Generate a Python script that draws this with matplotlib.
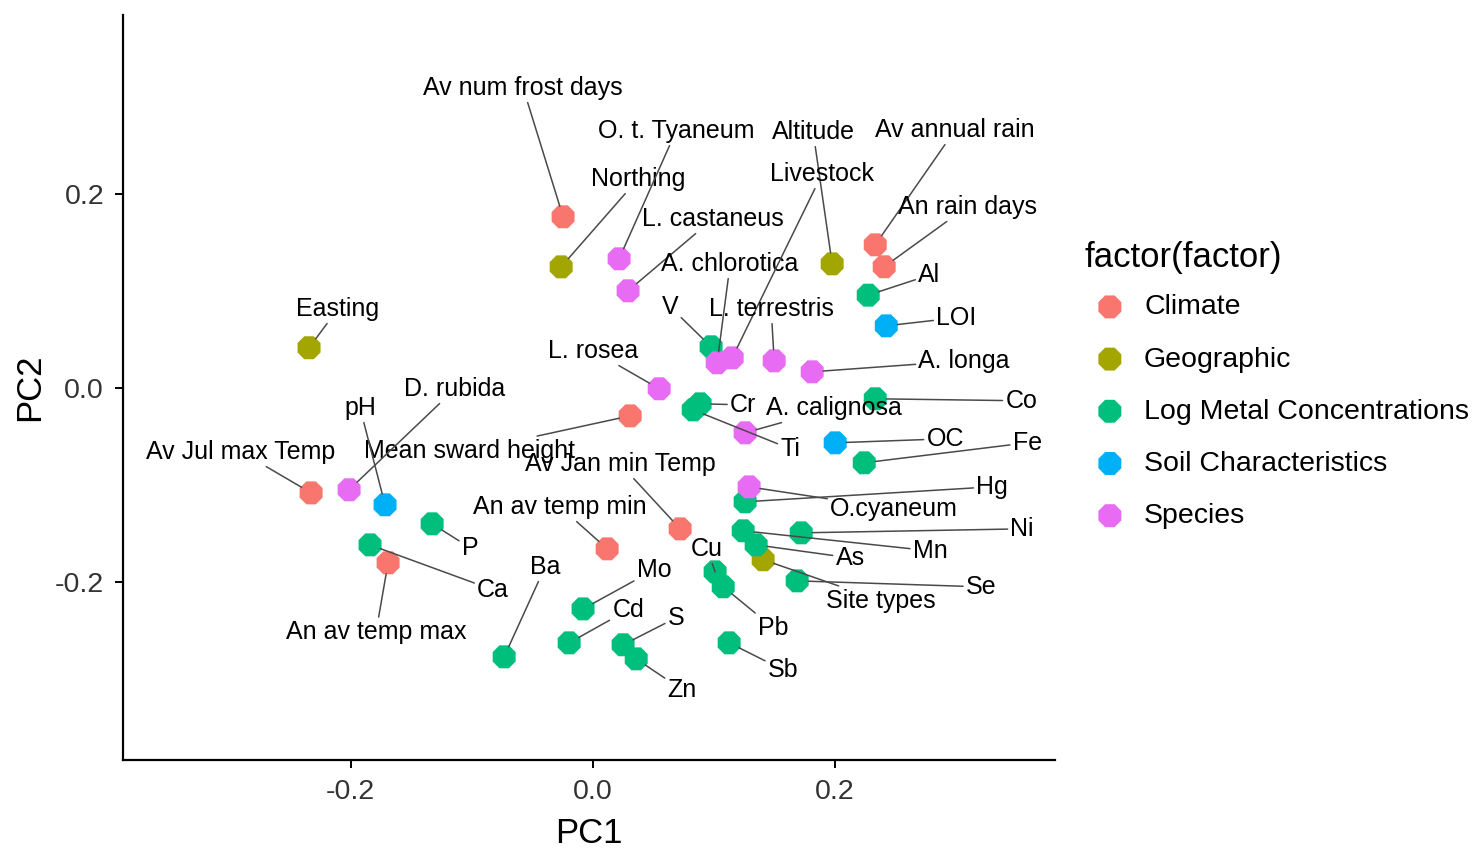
import matplotlib
matplotlib.use('Agg')
import matplotlib.pyplot as plt

plt.rcParams['font.family'] = ['Liberation Sans', 'DejaVu Sans']

groups = ['Climate', 'Geographic', 'Log Metal Concentrations', 'Soil Characteristics', 'Species']
colours = ['#F8766D', '#A3A500', '#00BF7D', '#00B0F6', '#E76BF3']

# PCA loadings
variables = ['Av num frost days', 'Av Jul max Temp', 'An av temp max', 'An av temp min',
             'Av Jan min Temp', 'Mean sward height', 'Av annual rain', 'An rain days',
             'Northing', 'Easting', 'Altitude', 'Site types',
             'V', 'Al', 'Co', 'Cr', 'Ti', 'Fe', 'Hg', 'Ni', 'Mn', 'As', 'Se', 'Cu', 'Pb',
             'Sb', 'Mo', 'Cd', 'S', 'Zn', 'Ba', 'P', 'Ca',
             'pH', 'LOI', 'OC',
             'O. t. Tyaneum', 'L. castaneus', 'A. chlorotica', 'Livestock', 'L. terrestris',
             'A. longa', 'L. rosea', 'D. rubida', 'A. calignosa', 'O.cyaneum']
pc1 = [-0.0244, -0.2326, -0.1690, 0.0120, 0.0723, 0.0310, 0.2335, 0.2409,
       -0.0260, -0.2343, 0.1979, 0.1409,
       0.0979, 0.2277, 0.2335, 0.0888, 0.0831, 0.2244, 0.1260, 0.1723, 0.1244, 0.1351,
       0.1690, 0.1012, 0.1079, 0.1128, -0.0079, -0.0194, 0.0252, 0.0360, -0.0731,
       -0.1326, -0.1839,
       -0.1715, 0.2426, 0.2004,
       0.0219, 0.0293, 0.1029, 0.1153, 0.1500, 0.1814, 0.0550, -0.2012, 0.1260, 0.1293]
pc2 = [0.1760, -0.1086, -0.1807, -0.1663, -0.1457, -0.0292, 0.1471, 0.1245,
       0.1244, 0.0410, 0.1275, -0.1775,
       0.0420, 0.0952, -0.0116, -0.0168, -0.0230, -0.0776, -0.1178, -0.1498, -0.1477,
       -0.1622, -0.1993, -0.1900, -0.2054, -0.2632, -0.2282, -0.2632, -0.2652, -0.2797,
       -0.2776, -0.1405, -0.1622,
       -0.1209, 0.0636, -0.0570,
       0.1327, 0.0997, 0.0255, 0.0306, 0.0275, 0.0162, -0.0013, -0.1054, -0.0467, -0.1024]
factor = ['Climate'] * 8 + ['Geographic'] * 4 + ['Log Metal Concentrations'] * 21 + \
         ['Soil Characteristics'] * 3 + ['Species'] * 10

# where the repelled labels ended up, in pixels from their point (right, up)
label_offset = {
    'Av num frost days': (-40, 129), 'Av Jul max Temp': (-70, 41), 'An av temp max': (-12, -69),
    'An av temp min': (-47, 42), 'Av Jan min Temp': (-60, 65), 'Mean sward height': (-161, -35),
    'Av annual rain': (80, 115), 'An rain days': (83, 60), 'Northing': (77, 88),
    'Easting': (29, 39), 'Altitude': (-19, 132), 'Site types': (118, -41),
    'V': (-41, 40), 'Al': (61, 20), 'Co': (146, -2), 'Cr': (43, -1), 'Ti': (97, -39),
    'Fe': (163, 20), 'Hg': (247, 15), 'Ni': (221, 4), 'Mn': (187, -20), 'As': (94, -13),
    'Se': (184, -6), 'Cu': (-8, 23), 'Pb': (50, -41), 'Sb': (54, -27), 'Mo': (71, 39),
    'Cd': (59, 33), 'S': (53, 27), 'Zn': (46, -31), 'Ba': (41, 90), 'P': (38, -24),
    'Ca': (123, -45), 'pH': (-25, 97), 'LOI': (70, 8), 'OC': (110, 4),
    'O. t. Tyaneum': (57, 128), 'L. castaneus': (85, 72), 'A. chlorotica': (13, 99),
    'Livestock': (90, 184), 'L. terrestris': (-3, 52), 'A. longa': (152, 11),
    'L. rosea': (-66, 38), 'D. rubida': (106, 101), 'A. calignosa': (89, 25),
    'O.cyaneum': (145, -22),
}

fig = plt.figure(figsize=(14.79, 8.49), dpi=100)
ax = fig.add_axes([0.0835, 0.1048, 0.6298, 0.8775])

for g, c in zip(groups, colours):
    xs = [x for x, f in zip(pc1, factor) if f == g]
    ys = [y for y, f in zip(pc2, factor) if f == g]
    ax.scatter(xs, ys, s=320, marker='8', color=c, edgecolors='none', label=g, zorder=2)

for name, x, y in zip(variables, pc1, pc2):
    ax.annotate(name, (x, y), xytext=label_offset[name], textcoords='offset pixels',
                ha='center', va='center', fontsize=18, color='black', zorder=3,
                arrowprops=dict(arrowstyle='-', color='#4a4a4a', lw=1.1,
                                shrinkA=0, shrinkB=8))

ax.set_xlim(-0.3876, 0.382)
ax.set_ylim(-0.384, 0.384)
ax.set_xticks([-0.2, 0.0, 0.2])
ax.set_yticks([-0.2, 0.0, 0.2])
ax.set_xticklabels(['-0.2', '0.0', '0.2'])
ax.set_yticklabels(['-0.2', '0.0', '0.2'])
for s in ['top', 'right']:
    ax.spines[s].set_visible(False)
for s in ['left', 'bottom']:
    ax.spines[s].set_linewidth(1.6)
ax.tick_params(labelsize=20.5, labelcolor='#333333', length=6, width=1.4, pad=8)
ax.set_xlabel('PC1', fontsize=25, labelpad=8)
ax.set_ylabel('PC2', fontsize=25, labelpad=6)

leg = ax.legend(title='factor(factor)', loc='upper left',
                bbox_to_anchor=(1070 / 1479, 1 - 227 / 849), bbox_transform=fig.transFigure,
                frameon=False, fontsize=20.5, title_fontsize=25, borderpad=0,
                handlelength=1.8, handletextpad=0.3, labelspacing=0.92, scatterpoints=1,
                alignment='left')
leg._legend_box.sep = 14.5

fig.savefig('out.png', dpi=100)
